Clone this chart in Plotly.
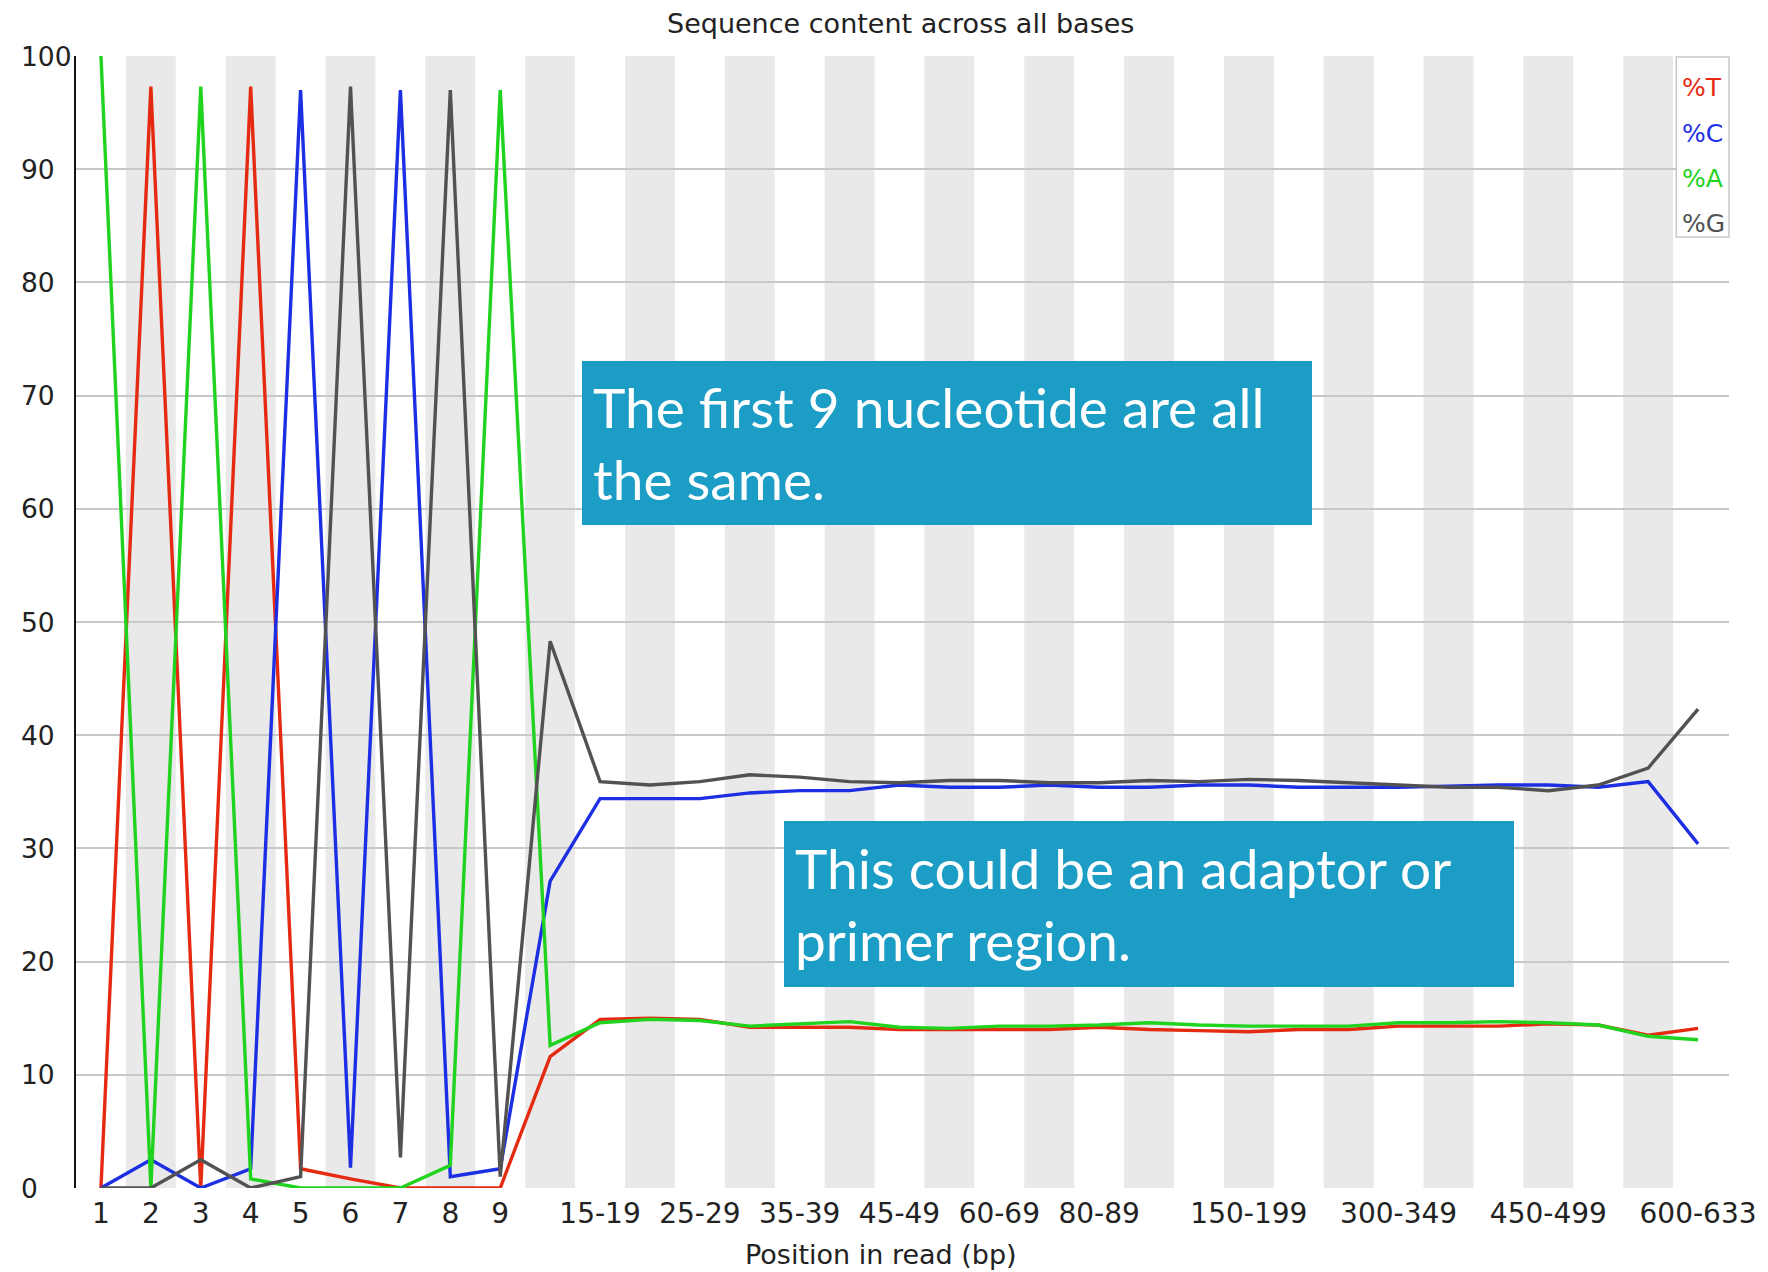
import plotly.graph_objects as go

# Per-base sequence content (%), one value per position bin
positions = ["1", "2", "3", "4", "5", "6", "7", "8", "9",
             "10-14", "15-19", "20-24", "25-29", "30-34", "35-39", "40-44", "45-49",
             "50-59", "60-69", "70-79", "80-89", "90-99",
             "100-149", "150-199", "200-249", "250-299", "300-349", "350-399",
             "400-449", "450-499", "500-549", "550-599", "600-633"]

pct_T = [0.0, 97.3, 0.0, 97.3, 1.7, 0.8, 0.0, 0.0, 0.0,
         11.6, 14.9, 15.0, 14.9, 14.2, 14.2, 14.2, 14.0,
         14.0, 14.0, 14.0, 14.2, 14.0,
         13.9, 13.8, 14.0, 14.0, 14.3, 14.3, 14.3, 14.5, 14.4, 13.5, 14.1]
pct_C = [0.0, 2.5, 0.0, 1.7, 97.0, 1.8, 97.0, 1.0, 1.7,
         27.1, 34.4, 34.4, 34.4, 34.9, 35.1, 35.1, 35.6,
         35.4, 35.4, 35.6, 35.4, 35.4,
         35.6, 35.6, 35.4, 35.4, 35.4, 35.5, 35.6, 35.6, 35.4, 35.9, 30.4]
pct_A = [100.0, 0.0, 97.3, 0.8, 0.0, 0.0, 0.0, 2.0, 97.0,
         12.6, 14.6, 14.9, 14.8, 14.3, 14.5, 14.7, 14.2,
         14.1, 14.3, 14.3, 14.4, 14.6,
         14.4, 14.3, 14.3, 14.3, 14.6, 14.6, 14.7, 14.6, 14.4, 13.4, 13.1]
pct_G = [0.0, 0.0, 2.5, 0.0, 1.0, 97.3, 2.7, 97.0, 1.0,
         48.3, 35.9, 35.6, 35.9, 36.5, 36.3, 35.9, 35.8,
         36.0, 36.0, 35.8, 35.8, 36.0,
         35.9, 36.1, 36.0, 35.8, 35.6, 35.4, 35.4, 35.1, 35.6, 37.1, 42.3]

# Labelled bins on the x axis
tick_labels = ["1", "2", "3", "4", "5", "6", "7", "8", "9",
               "15-19", "25-29", "35-39", "45-49", "60-69", "80-89",
               "150-199", "300-349", "450-499", "600-633"]
y_ticks = [0, 10, 20, 30, 40, 50, 60, 70, 80, 90, 100]

series = [("%T", pct_T, "#e42b12"),
          ("%C", pct_C, "#1d2fe3"),
          ("%A", pct_A, "#1fd31f"),
          ("%G", pct_G, "#525252")]

W, H = 1768, 1272
L, R, T, B = 76, 31, 56, 84
PW, PH = W - L - R, H - T - B


def px_x(px):
    return (px - L) / PW


def px_y(py):
    return (H - B - py) / PH


xs = list(range(len(positions)))
fig = go.Figure()
for name, vals, color in series:
    fig.add_trace(go.Scatter(x=xs, y=vals, mode="lines", name=name,
                             line=dict(color=color, width=3.4),
                             showlegend=False, hoverinfo="x+y+name"))

# alternating column shading
shapes = []
for i in range(1, len(positions), 2):
    shapes.append(dict(type="rect", xref="x", yref="y", x0=i - 0.5, x1=i + 0.5,
                       y0=0, y1=100, fillcolor="#e9e9e9", line=dict(width=0),
                       layer="below"))

# legend box
shapes.append(dict(type="rect", xref="paper", yref="paper",
                   x0=px_x(1684), x1=px_x(1737), y0=px_y(237), y1=px_y(57),
                   fillcolor="white", line=dict(color="#c8c8c8", width=1.5),
                   layer="above"))

annotations = []
for k, (name, vals, color) in enumerate(series):
    annotations.append(dict(xref="paper", yref="paper", x=px_x(1688), y=px_y(88 + 45 * k),
                            xanchor="left", yanchor="middle", text=name, showarrow=False,
                            font=dict(family="DejaVu Sans", size=25, color=color)))

# y tick labels, left aligned
for v in y_ticks:
    annotations.append(dict(xref="paper", yref="y", x=px_x(19), y=v,
                            xanchor="left", yanchor="middle", text=str(v), showarrow=False,
                            font=dict(family="DejaVu Sans", size=26.5, color="#222222")))

# x axis title
annotations.append(dict(xref="paper", yref="paper", x=px_x(885), y=px_y(1254),
                        xanchor="center", yanchor="middle", text="Position in read (bp)",
                        showarrow=False,
                        font=dict(family="DejaVu Sans", size=27, color="#222222")))

# chart title
annotations.append(dict(xref="paper", yref="paper", x=px_x(904), y=px_y(23),
                        xanchor="center", yanchor="middle",
                        text="Sequence content across all bases", showarrow=False,
                        font=dict(family="DejaVu Sans", size=27, color="#222222")))

# callout boxes
callouts = [("The first 9 nucleotide are all<br>the same.", 584, 1314, 361, 525),
            ("This could be an adaptor or<br>primer region.", 787, 1517, 821, 987)]
for text, x0, x1, y0, y1 in callouts:
    pad = 11
    annotations.append(dict(xref="paper", yref="paper", x=px_x(x0), y=px_y(y0),
                            xanchor="left", yanchor="top", text=text, showarrow=False,
                            align="left", valign="middle",
                            width=x1 - x0 - 2 * pad, height=y1 - y0 - 2 * pad,
                            borderpad=pad, borderwidth=0, bgcolor="#1c9dc5",
                            font=dict(family="Lato", size=55, color="white")))

tick_vals = [positions.index(t) for t in tick_labels]

fig.update_layout(
    width=W, height=H,
    margin=dict(l=L, r=R, t=T, b=B),
    paper_bgcolor="white", plot_bgcolor="white",
    shapes=shapes, annotations=annotations,
    showlegend=False,
    xaxis=dict(range=[-0.5, 32.62], tickmode="array", tickvals=tick_vals,
               ticktext=tick_labels, showgrid=False, zeroline=False, showline=False,
               ticks="", ticklabelstandoff=6,
               tickfont=dict(family="DejaVu Sans", size=28, color="#222222")),
    yaxis=dict(range=[0, 100], tickvals=y_ticks, showticklabels=False,
               showgrid=True, gridcolor="#c8c8c8", gridwidth=1.5,
               zeroline=False, showline=True, linecolor="#111111", linewidth=2,
               ticks=""),
)

fig.write_html("out.html")
